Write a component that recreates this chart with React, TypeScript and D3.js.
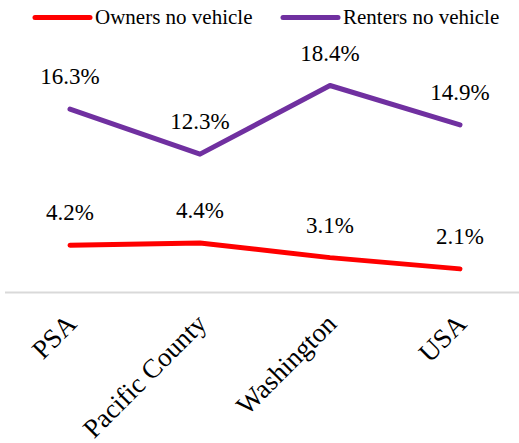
import React from "react";
import * as d3 from "d3";

const categories = ["PSA", "Pacific County", "Washington", "USA"];
const ownersNoVehicle = [4.2, 4.4, 3.1, 2.1];
const rentersNoVehicle = [16.3, 12.3, 18.4, 14.9];
const seriesNames = ["Owners no vehicle", "Renters no vehicle"];
const seriesColors = ["#ff0000", "#7030a0"];

const W = 519;
const H = 443;
const FONT = "'Liberation Serif', serif";

export default function App() {
  const x = d3.scalePoint<string>().domain(categories).range([70, 460]);
  const y = d3.scaleLinear().domain([0, 20]).range([292.5, 67.5]);
  const line = d3
    .line<number>()
    .x((_, i) => x(categories[i]) as number)
    .y((d) => y(d));
  const series = [ownersNoVehicle, rentersNoVehicle];
  const legendX = [35, 283];

  return (
    <svg
      width={W}
      height={H}
      style={{ position: "absolute", left: 0, top: 0, background: "#fff" }}
      fontFamily={FONT}
    >
      <line x1={5} x2={519} y1={y(0)} y2={y(0)} stroke="#d9d9d9" strokeWidth={2} />
      {series.map((vals, si) => (
        <g key={si}>
          <path
            d={line(vals) || ""}
            fill="none"
            stroke={seriesColors[si]}
            strokeWidth={5}
            strokeLinejoin="round"
            strokeLinecap="round"
          />
          {vals.map((v, i) => (
            <text
              key={i}
              x={x(categories[i])}
              y={y(v) - 25}
              textAnchor="middle"
              fontSize={23}
              fill="#000"
            >
              {v.toFixed(1) + "%"}
            </text>
          ))}
        </g>
      ))}
      {categories.map((c) => (
        <text
          key={c}
          transform={`translate(${(x(c) as number) + 8},${y(0) + 33}) rotate(-45)`}
          textAnchor="end"
          fontSize={27}
          fill="#000"
        >
          {c}
        </text>
      ))}
      {seriesNames.map((n, i) => (
        <g key={n}>
          <line
            x1={legendX[i]}
            x2={legendX[i] + 55}
            y1={17.5}
            y2={17.5}
            stroke={seriesColors[i]}
            strokeWidth={5}
            strokeLinecap="round"
          />
          <text x={legendX[i] + 60} y={24} fontSize={21} fill="#000">
            {n}
          </text>
        </g>
      ))}
    </svg>
  );
}
